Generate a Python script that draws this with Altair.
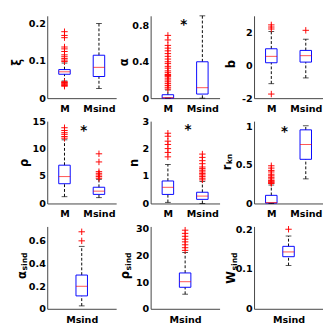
import altair as alt
import pandas as pd

FONT = "DejaVu Sans"
BLUE, RED, INK, AXIS = "#0000ff", "#ff0000", "#000000", "#404040"
W, H = 72, 86

cats2 = ["M", "Msind"]
cats1 = ["Msind"]

# five-number summaries: [lower whisker, q1, median, q3, upper whisker]
xi_M = [0.046, 0.064, 0.0706, 0.0766, 0.094]
xi_S = [0.026, 0.058, 0.0826, 0.115, 0.200]
xi_M_out = [0.178, 0.168, 0.162, 0.137, 0.132, 0.125, 0.116, 0.111, 0.106,
            0.102, 0.098, 0.044, 0.042, 0.040, 0.038, 0.036, 0.034, 0.032]
xi_S_out = []

a_M = [0.0, 0.0, 0.005, 0.038, 0.09]
a_S = [0.0, 0.045, 0.115, 0.40, 0.905]
a_M_out = [0.69, 0.64, 0.58, 0.55, 0.52, 0.49, 0.46, 0.43, 0.40, 0.38, 0.35,
           0.33, 0.30, 0.28, 0.26, 0.25, 0.24, 0.22, 0.20, 0.18, 0.16, 0.14,
           0.12, 0.10]
a_S_out = []

b_M = [-1.12, 0.15, 0.54, 1.0, 2.05]
b_S = [-0.77, 0.19, 0.58, 0.9, 1.58]
b_M_out = [2.45, 2.32, 2.2, -1.75]
b_S_out = [2.12]

rho_M = [1.24, 3.6, 4.9, 6.98, 11.6]
rho_S = [1.07, 1.66, 2.25, 2.96, 4.4]
rho_M_out = [13.8, 13.3, 12.9, 12.6, 12.2, 11.9]
rho_S_out = [9.05, 7.57, 5.8, 5.5, 5.2, 4.9, 4.6]

n_M = [0.04, 0.33, 0.59, 0.82, 1.42]
n_S = [0.0, 0.15, 0.27, 0.41, 0.8]
n_M_out = [2.56, 2.45, 2.27, 2.15, 2.0, 1.86, 1.7]
n_S_out = [1.8, 1.68, 1.56, 1.45, 1.33, 1.27, 1.21, 1.15, 1.09, 1.04, 0.98,
           0.92, 0.86]

rkn_M = [0.0, 0.005, 0.012, 0.106, 0.24]
rkn_S = [0.32, 0.574, 0.766, 0.957, 1.01]
rkn_M_out = [0.49, 0.46, 0.43, 0.41, 0.38, 0.36, 0.34, 0.32, 0.30, 0.29,
             0.28, 0.27, 0.26]
rkn_S_out = []

asind_S = [0.026, 0.114, 0.199, 0.298, 0.551]
asind_S_out = [0.68, 0.60]
rsind_S = [5.5, 8.1, 10.2, 13.5, 21.2]
rsind_S_out = [29.6, 28.4, 27.3, 26.2, 25.2, 24.1, 23.0, 22.0]
wsind_S = [0.109, 0.131, 0.143, 0.157, 0.183]
wsind_S_out = [0.2]

# significance stars: (x position between groups, y value)
star_a = (1.46, 0.80)
star_rho = (1.56, 13.1)
star_n = (1.58, 2.68)
star_rkn = (1.38, 0.93)

PLUS = "M-1,0L1,0M0,-1L0,1"


def make_panel(cats, stats, outs, ydom, yticks, title, sub="", star=None,
               title_x=-24, title_dy=0.0):
    pos = list(range(1, len(cats) + 1))
    summ = pd.DataFrame({
        "pos": pos,
        "lo": [s[0] for s in stats],
        "q1": [s[1] for s in stats],
        "med": [s[2] for s in stats],
        "q3": [s[3] for s in stats],
        "hi": [s[4] for s in stats],
    })
    opos, oval = [], []
    for p, o in zip(pos, outs):
        opos += [p] * len(o)
        oval += list(o)
    odf = pd.DataFrame({"pos": opos, "v": oval})

    label_expr = "[" + ",".join(f"'{c}'" for c in cats) + "][datum.value - 1]"
    xaxis = alt.Axis(values=pos, labelExpr=label_expr, title=None, ticks=False,
                     grid=False, labelPadding=6, labelFont=FONT,
                     labelFontWeight="bold", labelFontSize=10, labelColor=INK,
                     domainColor=AXIS, labelAngle=0)
    xscale = alt.Scale(domain=[0.5, len(cats) + 0.5], nice=False, zero=False,
                       padding=0)
    yscale = alt.Scale(domain=ydom, nice=False, zero=False, padding=0)
    yaxis = alt.Axis(values=yticks, labelExpr="toString(datum.value)",
                     grid=False, ticks=False,
                     labelPadding=2, labelFont=FONT, labelFontWeight="bold",
                     labelFontSize=10, labelColor=INK, domainColor=AXIS,
                     title=title, titleX=title_x, titleY=H / 2 + title_dy,
                     titleAngle=270, titleBaseline="alphabetic",
                     titleAlign="right" if sub else "center",
                     titleFont=FONT, titleFontSize=12, titleFontWeight="bold",
                     titleColor=INK)

    def X():
        return alt.X("pos:Q", scale=xscale, axis=xaxis)

    def Y(f):
        return alt.Y(f"{f}:Q", scale=yscale, axis=yaxis)

    base = alt.Chart(summ)
    layers = [
        base.mark_rule(color=INK, strokeDash=[3, 2], strokeWidth=1).encode(
            x=X(), y=Y("q3"), y2="hi"),
        base.mark_rule(color=INK, strokeDash=[3, 2], strokeWidth=1).encode(
            x=X(), y=Y("lo"), y2="q1"),
        base.mark_bar(size=12, fill="white", fillOpacity=0, stroke=BLUE,
                      strokeWidth=1).encode(x=X(), y=Y("q1"), y2="q3"),
        base.mark_tick(orient="horizontal", size=6, thickness=1,
                       color=INK).encode(x=X(), y=Y("hi")),
        base.mark_tick(orient="horizontal", size=6, thickness=1,
                       color=INK).encode(x=X(), y=Y("lo")),
        base.mark_tick(orient="horizontal", size=12, thickness=1,
                       color=RED).encode(x=X(), y=Y("med")),
    ]
    if len(odf):
        layers.append(
            alt.Chart(odf).mark_point(shape=PLUS, size=45, filled=False,
                                      stroke=RED, strokeWidth=1, opacity=1)
            .encode(x=X(), y=Y("v")))
    if star is not None:
        sdf = pd.DataFrame({"pos": [star[0]], "v": [star[1]]})
        layers.append(
            alt.Chart(sdf).mark_text(text="*", font=FONT, fontSize=14,
                                     fontWeight="bold", color=INK,
                                     baseline="middle")
            .encode(x=X(), y=Y("v")))
    if sub:
        tdf = pd.DataFrame({"t": [sub]})
        layers.append(
            alt.Chart(tdf).mark_text(angle=270, align="left",
                                     baseline="alphabetic", font=FONT,
                                     fontSize=8, fontWeight="bold", color=INK)
            .encode(x=alt.value(title_x + 2), y=alt.value(H / 2 + title_dy),
                    text="t:N"))
    return alt.layer(*layers).properties(width=W, height=H)


panels = [
    make_panel(cats2, [xi_M, xi_S], [xi_M_out, xi_S_out], [0, 0.2205],
               [0, 0.1, 0.2], "ξ", title_x=-28, title_dy=5),
    make_panel(cats2, [a_M, a_S], [a_M_out, a_S_out], [0, 0.905],
               [0, 0.4, 0.8], "α", star=star_a, title_x=-24, title_dy=5),
    make_panel(cats2, [b_M, b_S], [b_M_out, b_S_out], [-2, 3],
               [-2, 0, 2], "b", title_x=-20, title_dy=7),
    make_panel(cats2, [rho_M, rho_S], [rho_M_out, rho_S_out], [0, 15],
               [0, 5, 10, 15], "ρ", star=star_rho, title_x=-21),
    make_panel(cats2, [n_M, n_S], [n_M_out, n_S_out], [0, 3],
               [0, 1, 2, 3], "n", star=star_n, title_x=-14),
    make_panel(cats2, [rkn_M, rkn_S], [rkn_M_out, rkn_S_out], [0, 1.07],
               [0, 0.5, 1], "r", sub="kn", star=star_rkn, title_x=-25,
               title_dy=2),
    make_panel(cats1, [asind_S], [asind_S_out], [0, 0.727],
               [0, 0.2, 0.4, 0.6], "α", sub="sind", title_x=-23, title_dy=3),
    make_panel(cats1, [rsind_S], [rsind_S_out], [0, 31],
               [0, 10, 20, 30], "ρ", sub="sind", title_x=-23, title_dy=3),
    make_panel(cats1, [wsind_S], [wsind_S_out], [0, 0.207],
               [0, 0.1, 0.2], "W", sub="sind", title_x=-20, title_dy=3),
]

chart = alt.concat(
    *panels, columns=3, spacing={"row": 24, "column": 36}, bounds="flush"
).properties(
    padding={"left": 3, "top": 0, "right": 0, "bottom": 0}
).configure_view(stroke=None)

chart.save("out.html", embed_options={"renderer": "svg", "actions": False})
